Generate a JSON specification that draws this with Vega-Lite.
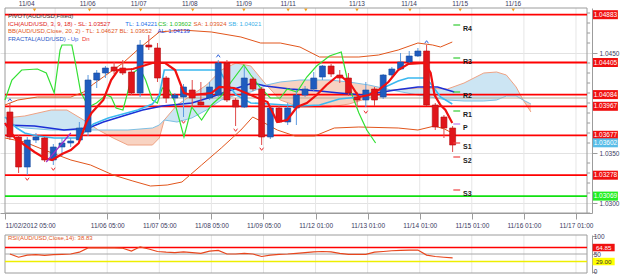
{
"$schema": "https://vega.github.io/schema/vega-lite/v6.json",
"width": 592,
"height": 275,
"autosize": {"type": "none"},
"padding": {"left": 0, "top": 0, "right": 33, "bottom": 0},
"background": "#ffffff",
"config": {
  "view": {"stroke": null},
  "text": {"font": "Liberation Sans", "fontSize": 6.5},
  "axis": {"labelFont": "Liberation Sans", "labelFontSize": 6.5, "labelColor": "#3a3a60", "domainColor": "#9c9c9c", "tickColor": "#9c9c9c", "labelBound": false}
},
"datasets": {
  "candles": [
    {"k":0,"o":1.0391,"h":1.0400,"l":1.0363,"c":1.0366},
    {"k":1,"o":1.0366,"h":1.0368,"l":1.0330,"c":1.0336},
    {"k":2,"o":1.0336,"h":1.0366,"l":1.0328,"c":1.0363},
    {"k":3,"o":1.0363,"h":1.0370,"l":1.0360,"c":1.0366},
    {"k":4,"o":1.0365,"h":1.0366,"l":1.0341,"c":1.0343},
    {"k":5,"o":1.0343,"h":1.0359,"l":1.0338,"c":1.0356},
    {"k":6,"o":1.0356,"h":1.0365,"l":1.0347,"c":1.0360},
    {"k":7,"o":1.0360,"h":1.0365,"l":1.0356,"c":1.0362},
    {"k":8,"o":1.0363,"h":1.0381,"l":1.0361,"c":1.0375},
    {"k":9,"o":1.0371,"h":1.0428,"l":1.0367,"c":1.0423},
    {"k":10,"o":1.0423,"h":1.0433,"l":1.0415,"c":1.0430},
    {"k":11,"o":1.0430,"h":1.0437,"l":1.0425,"c":1.0435},
    {"k":12,"o":1.0436,"h":1.0441,"l":1.0429,"c":1.0432},
    {"k":13,"o":1.0435,"h":1.0443,"l":1.0428,"c":1.0430},
    {"k":14,"o":1.0431,"h":1.0435,"l":1.0408,"c":1.0410},
    {"k":15,"o":1.0410,"h":1.0463,"l":1.0406,"c":1.0458},
    {"k":16,"o":1.0458,"h":1.0468,"l":1.0453,"c":1.0456},
    {"k":17,"o":1.0455,"h":1.0460,"l":1.0421,"c":1.0425},
    {"k":18,"o":1.0425,"h":1.0427,"l":1.0400,"c":1.0405},
    {"k":19,"o":1.0405,"h":1.0410,"l":1.0401,"c":1.0408},
    {"k":20,"o":1.0406,"h":1.0419,"l":1.0386,"c":1.0416},
    {"k":21,"o":1.0413,"h":1.0423,"l":1.0396,"c":1.0405},
    {"k":22,"o":1.0401,"h":1.0421,"l":1.0397,"c":1.0398},
    {"k":23,"o":1.0405,"h":1.0421,"l":1.0403,"c":1.0416},
    {"k":24,"o":1.0408,"h":1.0443,"l":1.0406,"c":1.0440},
    {"k":25,"o":1.0440,"h":1.0443,"l":1.0401,"c":1.0403},
    {"k":26,"o":1.0403,"h":1.0405,"l":1.0377,"c":1.0396},
    {"k":27,"o":1.0396,"h":1.0436,"l":1.0395,"c":1.0425},
    {"k":28,"o":1.0424,"h":1.0426,"l":1.0412,"c":1.0414},
    {"k":29,"o":1.0414,"h":1.0416,"l":1.0358,"c":1.0366},
    {"k":30,"o":1.0366,"h":1.0398,"l":1.0364,"c":1.0395},
    {"k":31,"o":1.0395,"h":1.0397,"l":1.0380,"c":1.0381},
    {"k":32,"o":1.0381,"h":1.0400,"l":1.0378,"c":1.0395},
    {"k":33,"o":1.0395,"h":1.0413,"l":1.0378,"c":1.0408},
    {"k":34,"o":1.0408,"h":1.0417,"l":1.0406,"c":1.0414},
    {"k":35,"o":1.0414,"h":1.0431,"l":1.0412,"c":1.0425},
    {"k":36,"o":1.0426,"h":1.0438,"l":1.0423,"c":1.0437},
    {"k":37,"o":1.0437,"h":1.0439,"l":1.0426,"c":1.0429},
    {"k":38,"o":1.0428,"h":1.0433,"l":1.0420,"c":1.0425},
    {"k":39,"o":1.0425,"h":1.0430,"l":1.0407,"c":1.0410},
    {"k":40,"o":1.0406,"h":1.0411,"l":1.0396,"c":1.0403},
    {"k":41,"o":1.0403,"h":1.0421,"l":1.0396,"c":1.0413},
    {"k":42,"o":1.0414,"h":1.0416,"l":1.0397,"c":1.0403},
    {"k":43,"o":1.0406,"h":1.0429,"l":1.0404,"c":1.0428},
    {"k":44,"o":1.0428,"h":1.0436,"l":1.0425,"c":1.0434},
    {"k":45,"o":1.0434,"h":1.0450,"l":1.0433,"c":1.0441},
    {"k":46,"o":1.0441,"h":1.0452,"l":1.0439,"c":1.0447},
    {"k":47,"o":1.0447,"h":1.0455,"l":1.0446,"c":1.0452},
    {"k":48,"o":1.0452,"h":1.0458,"l":1.0397,"c":1.0398},
    {"k":49,"o":1.0398,"h":1.0400,"l":1.0373,"c":1.0376},
    {"k":50,"o":1.0386,"h":1.0388,"l":1.0365,"c":1.0375},
    {"k":51,"o":1.0375,"h":1.0377,"l":1.0351,"c":1.0358}
  ],
  "ind": [
    {"s":"TEN","k":-0.57,"p":1.0380},{"s":"TEN","k":0.57,"p":1.0365},{"s":"TEN","k":1.70,"p":1.0358},{"s":"TEN","k":2.83,"p":1.0351},{"s":"TEN","k":3.96,"p":1.0345},{"s":"TEN","k":4.87,"p":1.0343},{"s":"TEN","k":6.00,"p":1.0349},{"s":"TEN","k":7.02,"p":1.0353},{"s":"TEN","k":7.93,"p":1.0360},{"s":"TEN","k":8.83,"p":1.0381},{"s":"TEN","k":9.40,"p":1.0390},{"s":"TEN","k":10.76,"p":1.0403},{"s":"TEN","k":11.66,"p":1.0423},{"s":"TEN","k":12.46,"p":1.0433},{"s":"TEN","k":14.16,"p":1.0434},{"s":"TEN","k":16.42,"p":1.0440},{"s":"TEN","k":17.89,"p":1.0440},{"s":"TEN","k":19.03,"p":1.0433},{"s":"TEN","k":20.05,"p":1.0410},{"s":"TEN","k":20.95,"p":1.0408},{"s":"TEN","k":23.22,"p":1.0410},{"s":"TEN","k":24.12,"p":1.0416},{"s":"TEN","k":25.82,"p":1.0415},{"s":"TEN","k":27.75,"p":1.0408},{"s":"TEN","k":29.67,"p":1.0401},{"s":"TEN","k":30.80,"p":1.0381},{"s":"TEN","k":31.94,"p":1.0383},{"s":"TEN","k":33.07,"p":1.0396},{"s":"TEN","k":34.20,"p":1.0400},{"s":"TEN","k":35.33,"p":1.0408},{"s":"TEN","k":36.47,"p":1.0418},{"s":"TEN","k":37.60,"p":1.0426},{"s":"TEN","k":38.28,"p":1.0426},{"s":"TEN","k":39.30,"p":1.0418},{"s":"TEN","k":40.20,"p":1.0406},{"s":"TEN","k":41.34,"p":1.0408},{"s":"TEN","k":42.47,"p":1.0413},{"s":"TEN","k":43.60,"p":1.0421},{"s":"TEN","k":44.73,"p":1.0433},{"s":"TEN","k":45.87,"p":1.0439},{"s":"TEN","k":47.79,"p":1.0440},{"s":"TEN","k":48.47,"p":1.0430},{"s":"TEN","k":48.92,"p":1.0408},{"s":"TEN","k":49.60,"p":1.0398},{"s":"TEN","k":50.17,"p":1.0393},{"s":"TEN","k":50.96,"p":1.0380},
    {"s":"MID","k":-0.57,"p":1.0378},{"s":"MID","k":2.83,"p":1.0377},{"s":"MID","k":6.23,"p":1.0373},{"s":"MID","k":9.06,"p":1.0375},{"s":"MID","k":10.76,"p":1.0381},{"s":"MID","k":13.02,"p":1.0387},{"s":"MID","k":15.29,"p":1.0393},{"s":"MID","k":17.55,"p":1.0397},{"s":"MID","k":20.95,"p":1.0400},{"s":"MID","k":23.22,"p":1.0406},{"s":"MID","k":25.48,"p":1.0413},{"s":"MID","k":27.97,"p":1.0420},{"s":"MID","k":29.45,"p":1.0417},{"s":"MID","k":32.28,"p":1.0414},{"s":"MID","k":35.67,"p":1.0412},{"s":"MID","k":37.94,"p":1.0410},{"s":"MID","k":40.77,"p":1.0408},{"s":"MID","k":44.39,"p":1.0413},{"s":"MID","k":47.00,"p":1.0416},{"s":"MID","k":49.26,"p":1.0416},{"s":"MID","k":51.19,"p":1.0411},
    {"s":"KIJ","k":-0.57,"p":1.0386},{"s":"KIJ","k":0.79,"p":1.0375},{"s":"KIJ","k":1.70,"p":1.0370},{"s":"KIJ","k":3.17,"p":1.0367},{"s":"KIJ","k":5.10,"p":1.0365},{"s":"KIJ","k":7.93,"p":1.0365},{"s":"KIJ","k":8.72,"p":1.0372},{"s":"KIJ","k":9.63,"p":1.0379},{"s":"KIJ","k":11.33,"p":1.0385},{"s":"KIJ","k":13.02,"p":1.0389},{"s":"KIJ","k":14.72,"p":1.0393},{"s":"KIJ","k":16.42,"p":1.0399},{"s":"KIJ","k":17.21,"p":1.0408},{"s":"KIJ","k":17.78,"p":1.0433},{"s":"KIJ","k":24.12,"p":1.0433},{"s":"KIJ","k":24.92,"p":1.0421},{"s":"KIJ","k":26.05,"p":1.0408},{"s":"KIJ","k":27.75,"p":1.0400},{"s":"KIJ","k":30.01,"p":1.0399},{"s":"KIJ","k":33.41,"p":1.0397},{"s":"KIJ","k":35.67,"p":1.0398},{"s":"KIJ","k":37.94,"p":1.0404},{"s":"KIJ","k":40.20,"p":1.0406},{"s":"KIJ","k":42.47,"p":1.0413},{"s":"KIJ","k":44.73,"p":1.0422},{"s":"KIJ","k":45.87,"p":1.0425},{"s":"KIJ","k":47.91,"p":1.0425},{"s":"KIJ","k":48.70,"p":1.0417},{"s":"KIJ","k":49.60,"p":1.0406},{"s":"KIJ","k":50.96,"p":1.0399},
    {"s":"CHI","k":-0.57,"p":1.0403},{"s":"CHI","k":0.23,"p":1.0423},{"s":"CHI","k":1.36,"p":1.0433},{"s":"CHI","k":3.17,"p":1.0434},{"s":"CHI","k":4.19,"p":1.0430},{"s":"CHI","k":5.10,"p":1.0410},{"s":"CHI","k":5.78,"p":1.0453},{"s":"CHI","k":6.00,"p":1.0458},{"s":"CHI","k":7.13,"p":1.0458},{"s":"CHI","k":7.59,"p":1.0438},{"s":"CHI","k":8.15,"p":1.0411},{"s":"CHI","k":9.06,"p":1.0396},{"s":"CHI","k":9.97,"p":1.0400},{"s":"CHI","k":11.10,"p":1.0408},{"s":"CHI","k":11.66,"p":1.0406},{"s":"CHI","k":12.23,"p":1.0395},{"s":"CHI","k":13.02,"p":1.0393},{"s":"CHI","k":14.16,"p":1.0430},{"s":"CHI","k":14.95,"p":1.0435},{"s":"CHI","k":15.63,"p":1.0423},{"s":"CHI","k":16.42,"p":1.0403},{"s":"CHI","k":16.99,"p":1.0400},{"s":"CHI","k":17.55,"p":1.0415},{"s":"CHI","k":18.35,"p":1.0413},{"s":"CHI","k":18.91,"p":1.0403},{"s":"CHI","k":20.05,"p":1.0366},{"s":"CHI","k":20.95,"p":1.0396},{"s":"CHI","k":22.08,"p":1.0383},{"s":"CHI","k":23.22,"p":1.0398},{"s":"CHI","k":24.35,"p":1.0407},{"s":"CHI","k":25.48,"p":1.0421},{"s":"CHI","k":26.95,"p":1.0438},{"s":"CHI","k":27.75,"p":1.0428},{"s":"CHI","k":28.88,"p":1.0415},{"s":"CHI","k":30.01,"p":1.0405},{"s":"CHI","k":31.14,"p":1.0405},{"s":"CHI","k":31.94,"p":1.0414},{"s":"CHI","k":33.07,"p":1.0411},{"s":"CHI","k":34.20,"p":1.0426},{"s":"CHI","k":35.33,"p":1.0437},{"s":"CHI","k":36.81,"p":1.0447},{"s":"CHI","k":38.17,"p":1.0451},{"s":"CHI","k":39.07,"p":1.0416},{"s":"CHI","k":40.20,"p":1.0390},{"s":"CHI","k":41.11,"p":1.0373},{"s":"CHI","k":42.13,"p":1.0360},
    {"s":"BBU","k":-0.57,"p":1.0398},{"s":"BBU","k":0.91,"p":1.0403},{"s":"BBU","k":3.17,"p":1.0406},{"s":"BBU","k":7.02,"p":1.0406},{"s":"BBU","k":8.49,"p":1.0411},{"s":"BBU","k":9.63,"p":1.0419},{"s":"BBU","k":10.76,"p":1.0426},{"s":"BBU","k":11.89,"p":1.0433},{"s":"BBU","k":13.02,"p":1.0440},{"s":"BBU","k":14.95,"p":1.0455},{"s":"BBU","k":17.21,"p":1.0471},{"s":"BBU","k":19.82,"p":1.0473},{"s":"BBU","k":23.22,"p":1.0471},{"s":"BBU","k":26.61,"p":1.0466},{"s":"BBU","k":28.88,"p":1.0460},{"s":"BBU","k":31.14,"p":1.0460},{"s":"BBU","k":33.41,"p":1.0456},{"s":"BBU","k":35.67,"p":1.0446},{"s":"BBU","k":40.20,"p":1.0446},{"s":"BBU","k":42.47,"p":1.0448},{"s":"BBU","k":44.73,"p":1.0453},{"s":"BBU","k":47.00,"p":1.0460},{"s":"BBU","k":48.70,"p":1.0458},{"s":"BBU","k":49.60,"p":1.0456},{"s":"BBU","k":50.96,"p":1.0461},
    {"s":"BBL","k":-0.57,"p":1.0365},{"s":"BBL","k":1.70,"p":1.0361},{"s":"BBL","k":3.96,"p":1.0353},{"s":"BBL","k":7.02,"p":1.0343},{"s":"BBL","k":9.29,"p":1.0338},{"s":"BBL","k":11.89,"p":1.0328},{"s":"BBL","k":14.16,"p":1.0322},{"s":"BBL","k":16.19,"p":1.0317},{"s":"BBL","k":18.12,"p":1.0318},{"s":"BBL","k":19.82,"p":1.0321},{"s":"BBL","k":22.08,"p":1.0338},{"s":"BBL","k":24.35,"p":1.0355},{"s":"BBL","k":26.61,"p":1.0373},{"s":"BBL","k":27.97,"p":1.0386},{"s":"BBL","k":29.11,"p":1.0381},{"s":"BBL","k":30.80,"p":1.0373},{"s":"BBL","k":32.84,"p":1.0367},{"s":"BBL","k":35.11,"p":1.0367},{"s":"BBL","k":37.37,"p":1.0375},{"s":"BBL","k":40.20,"p":1.0376},{"s":"BBL","k":44.73,"p":1.0375},{"s":"BBL","k":47.00,"p":1.0373},{"s":"BBL","k":48.92,"p":1.0377},{"s":"BBL","k":50.06,"p":1.0374},{"s":"BBL","k":50.96,"p":1.0370}
  ],
  "cloud": [
    {"seg":1,"k":-0.57,"a":1.0385,"b":1.0379},{"seg":1,"k":1.70,"a":1.0387,"b":1.0375},{"seg":1,"k":4.76,"a":1.0393,"b":1.0373},{"seg":1,"k":6.57,"a":1.0393,"b":1.0373},{"seg":1,"k":8.49,"a":1.0383,"b":1.0373},{"seg":1,"k":10.19,"a":1.0373,"b":1.0373},
    {"seg":2,"k":10.19,"a":1.0373,"b":1.0373},{"seg":2,"k":11.89,"a":1.0365,"b":1.0373},{"seg":2,"k":13.59,"a":1.0358,"b":1.0373},{"seg":2,"k":16.42,"a":1.0358,"b":1.0375},{"seg":2,"k":17.21,"a":1.0365,"b":1.0378},{"seg":2,"k":17.78,"a":1.0383,"b":1.0383},
    {"seg":3,"k":17.78,"a":1.0383,"b":1.0383},{"seg":3,"k":19.25,"a":1.0398,"b":1.0381},{"seg":3,"k":20.95,"a":1.0408,"b":1.0385},{"seg":3,"k":22.65,"a":1.0418,"b":1.0393},{"seg":3,"k":24.35,"a":1.0433,"b":1.0403},{"seg":3,"k":26.05,"a":1.0440,"b":1.0408},{"seg":3,"k":27.75,"a":1.0437,"b":1.0411},{"seg":3,"k":28.88,"a":1.0425,"b":1.0415},{"seg":3,"k":29.56,"a":1.0418,"b":1.0418},
    {"seg":4,"k":29.56,"a":1.0418,"b":1.0418},{"seg":4,"k":31.14,"a":1.0403,"b":1.0421},{"seg":4,"k":33.41,"a":1.0396,"b":1.0423},{"seg":4,"k":36.81,"a":1.0396,"b":1.0423},{"seg":4,"k":39.07,"a":1.0399,"b":1.0421},{"seg":4,"k":41.34,"a":1.0405,"b":1.0418},{"seg":4,"k":43.94,"a":1.0413,"b":1.0413},
    {"seg":5,"k":43.94,"a":1.0413,"b":1.0413},{"seg":5,"k":47.00,"a":1.0415,"b":1.0408},{"seg":5,"k":50.40,"a":1.0414,"b":1.0403},{"seg":5,"k":52.32,"a":1.0420,"b":1.0402},{"seg":5,"k":54.59,"a":1.0430,"b":1.0402},{"seg":5,"k":56.06,"a":1.0431,"b":1.0403},{"seg":5,"k":57.19,"a":1.0428,"b":1.0407},{"seg":5,"k":58.32,"a":1.0416,"b":1.0407},{"seg":5,"k":59.12,"a":1.0403,"b":1.0403},
    {"seg":6,"k":59.12,"a":1.0403,"b":1.0403},{"seg":6,"k":60.02,"a":1.0391,"b":1.0399}
  ],
  "levels": [
    {"p":1.04883,"label":"1.04883","src":"pivot"},
    {"p":1.04405,"label":"1.04405","src":"pivot"},
    {"p":1.04084,"label":"1.04084","src":"pivot"},
    {"p":1.04050,"label":"","src":"avg"},
    {"p":1.03967,"label":"1.03967","src":"pivot"},
    {"p":1.03677,"label":"1.03677","src":"pivot"},
    {"p":1.03602,"label":"1.03602","src":"close"},
    {"p":1.03278,"label":"1.03278","src":"pivot"},
    {"p":1.03069,"label":"1.03069","src":"low"}
  ],
  "yminor": [
    {"p":1.029},{"p":1.031},{"p":1.032},{"p":1.033},{"p":1.034},{"p":1.036},{"p":1.037},{"p":1.038},{"p":1.039},{"p":1.040},
    {"p":1.041},{"p":1.042},{"p":1.043},{"p":1.044},{"p":1.046},{"p":1.047},{"p":1.048},{"p":1.049}
  ],
  "pivots": [
    {"name":"R4","p":1.0478,"kind":"R"},{"name":"R3","p":1.0445,"kind":"R"},{"name":"R2","p":1.0411,"kind":"R"},{"name":"R1","p":1.0392,"kind":"R"},
    {"name":"P","p":1.0379,"kind":"P"},{"name":"S1","p":1.0360,"kind":"S"},{"name":"S2","p":1.0346,"kind":"S"},{"name":"S3","p":1.0313,"kind":"S"}
  ],
  "fractals": [
    {"k":0,"p":1.0403,"dir":"up"},{"k":24,"p":1.0447,"dir":"up"},{"k":48,"p":1.0461,"dir":"up"},
    {"k":2,"p":1.0324,"dir":"down"},{"k":5,"p":1.0334,"dir":"down"},{"k":20,"p":1.0381,"dir":"down"},{"k":26,"p":1.0373,"dir":"down"},{"k":29,"p":1.0354,"dir":"down"},{"k":41,"p":1.0391,"dir":"down"}
  ],
  "trend": [{"k":4.19,"p":1.0341},{"k":7.02,"p":1.0370}],
  "grid": [{"k":5.21},{"k":11.21},{"k":17.21},{"k":23.21},{"k":29.21},{"k":35.21},{"k":41.21},{"k":47.21},{"k":53.21},{"k":59.21},{"k":65.21}],
  "toplabels": [
    {"k":1.93,"label":"11/04"},{"k":8.95,"label":"11/06"},{"k":14.84,"label":"11/07"},{"k":20.72,"label":"11/08"},{"k":26.95,"label":"11/09"},
    {"k":32.05,"label":"11/11"},{"k":39.98,"label":"11/13"},{"k":45.98,"label":"11/14"},{"k":51.87,"label":"11/15"},{"k":57.98,"label":"11/16"}
  ],
  "topmarks": [{"k":2.83},{"k":9.17},{"k":15.06},{"k":21.06},{"k":26.95},{"k":32.05},{"k":34.09},{"k":39.98},{"k":46.09},{"k":51.87},{"k":57.98}],
  "rsi": [
    {"k":0,"v":50},{"k":1,"v":41},{"k":2,"v":47},{"k":3,"v":48},{"k":4,"v":46},{"k":5,"v":48},{"k":6,"v":49},{"k":7,"v":50},{"k":8,"v":55},{"k":9,"v":67},
    {"k":10,"v":67},{"k":11,"v":67},{"k":12,"v":67},{"k":13,"v":66},{"k":14,"v":58},{"k":15,"v":70},{"k":16,"v":64},{"k":17,"v":57},{"k":18,"v":55},{"k":19,"v":54},
    {"k":20,"v":56},{"k":21,"v":54},{"k":22,"v":52},{"k":23,"v":58},{"k":24,"v":60},{"k":25,"v":50},{"k":26,"v":50},{"k":27,"v":52},{"k":28,"v":50},{"k":29,"v":43},
    {"k":30,"v":47},{"k":31,"v":49},{"k":32,"v":50},{"k":33,"v":52},{"k":34,"v":54},{"k":35,"v":56},{"k":36,"v":57},{"k":37,"v":56},{"k":38,"v":52},{"k":39,"v":49},
    {"k":40,"v":49},{"k":41,"v":49},{"k":42,"v":55},{"k":43,"v":57},{"k":44,"v":59},{"k":45,"v":60},{"k":46,"v":61},{"k":47,"v":61},{"k":48,"v":47},{"k":49,"v":43},
    {"k":50,"v":41},{"k":51,"v":39}
  ],
  "rsilevels": [
    {"v":68,"label":"64.85","src":"hi"},{"v":50,"label":"","src":"mid"},{"v":29,"label":"29.00","src":"lo"}
  ],
  "rsiticks": [{"v":100,"label":"100"},{"v":50,"label":"50"},{"v":0,"label":"0"}]
},
"resolve": {"scale": {"y": "independent"}},
"layer": [
  {
    "resolve": {"scale": {"color": "independent", "shape": "independent"}},
    "layer": [
      {"data": {"name": "grid"}, "mark": {"type": "rule", "color": "#e6e6e6", "strokeWidth": 1},
       "encoding": {
         "x": {"field": "k", "type": "quantitative", "scale": {"domain": [-0.566, 66.48], "nice": false, "zero": false}},
         "y": {"datum": 1.029, "type": "quantitative", "scale": {"domain": [1.029, 1.0495], "range": [213, 8], "nice": false, "zero": false}},
         "y2": {"datum": 1.0495}}},
      {"data": {"values": [{}]}, "mark": {"type": "rect", "fill": null, "fillOpacity": 0, "stroke": "#9c9c9c", "strokeWidth": 1},
       "encoding": {
         "x": {"datum": -0.566, "type": "quantitative"},
         "x2": {"datum": 66.48},
         "y": {"datum": 1.029, "type": "quantitative"},
         "y2": {"datum": 1.0495}}},
      {"data": {"name": "yminor"}, "mark": {"type": "rule", "color": "#9c9c9c", "strokeWidth": 1},
       "encoding": {
         "x": {"datum": 66.48, "type": "quantitative"},
         "x2": {"datum": 66.84},
         "y": {"field": "p", "type": "quantitative"}}},
      {"data": {"name": "cloud"}, "mark": {"type": "area", "opacity": 1},
       "encoding": {
         "x": {"field": "k", "type": "quantitative"},
         "y": {"field": "a", "type": "quantitative", "stack": null},
         "y2": {"field": "b"},
         "color": {"field": "seg", "type": "nominal", "scale": {"domain": [1,2,3,4,5,6], "range": ["#cce5f3","#f8d3c2","#cce5f3","#f8d3c2","#cce5f3","#f8d3c2"]}, "legend": null}}},
      {"data": {"name": "cloud"}, "mark": {"type": "line", "color": "#efa283", "strokeWidth": 1},
       "encoding": {
         "x": {"field": "k", "type": "quantitative"},
         "y": {"field": "a", "type": "quantitative"}}},
      {"data": {"name": "cloud"}, "mark": {"type": "line", "color": "#7dc0e4", "strokeWidth": 1},
       "encoding": {
         "x": {"field": "k", "type": "quantitative"},
         "y": {"field": "b", "type": "quantitative"}}},
      {"data": {"name": "levels"}, "transform": [{"filter": "datum.src != 'close'"}], "mark": {"type": "rule"},
       "encoding": {
         "x": {"datum": -0.566, "type": "quantitative"},
         "x2": {"datum": 66.48},
         "y": {"field": "p", "type": "quantitative"},
         "color": {"field": "src", "type": "nominal", "scale": {"domain": ["pivot","low","avg"], "range": ["#ff0000","#11e011","#b9ab96"]}, "legend": null},
         "strokeWidth": {"condition": {"test": "datum.src == 'avg'", "value": 1}, "value": 1.8}}},
      {"data": {"name": "ind"}, "transform": [{"filter": "datum.s == 'BBU' || datum.s == 'BBL'"}], "mark": {"type": "line", "color": "#e2561c", "strokeWidth": 1},
       "encoding": {
         "x": {"field": "k", "type": "quantitative"},
         "y": {"field": "p", "type": "quantitative"},
         "detail": {"field": "s"}}},
      {"data": {"name": "ind"}, "transform": [{"filter": "datum.s == 'MID'"}], "mark": {"type": "line", "color": "#1c2fd6", "strokeWidth": 1.5},
       "encoding": {
         "x": {"field": "k", "type": "quantitative"},
         "y": {"field": "p", "type": "quantitative"}}},
      {"data": {"name": "ind"}, "transform": [{"filter": "datum.s == 'CHI'"}], "mark": {"type": "line", "color": "#33e033", "strokeWidth": 1.2},
       "encoding": {
         "x": {"field": "k", "type": "quantitative"},
         "y": {"field": "p", "type": "quantitative"}}},
      {"data": {"name": "ind"}, "transform": [{"filter": "datum.s == 'KIJ'"}], "mark": {"type": "line", "color": "#3ab8f0", "strokeWidth": 1.6},
       "encoding": {
         "x": {"field": "k", "type": "quantitative"},
         "y": {"field": "p", "type": "quantitative"}}},
      {"data": {"name": "candles"}, "mark": {"type": "rule", "strokeWidth": 1},
       "encoding": {
         "x": {"field": "k", "type": "quantitative"},
         "y": {"field": "h", "type": "quantitative"},
         "y2": {"field": "l"},
         "color": {"condition": {"test": "datum.c >= datum.o", "value": "#5d9be0"}, "value": "#e04a4a"}}},
      {"data": {"name": "candles"}, "mark": {"type": "bar", "width": 6, "strokeWidth": 0.6},
       "encoding": {
         "x": {"field": "k", "type": "quantitative", "scale": {"domain": [-0.566, 66.48], "nice": false, "zero": false},
               "axis": {"orient": "bottom", "offset": -62, "title": null, "grid": false, "tickSize": 6, "labelPadding": 3, "labelOverlap": false, "labelFlush": false,
                        "labelAlign": {"condition": {"test": "datum.value < 0", "value": "left"}, "value": "center"},
                        "values": [-0.566, 11.21, 17.21, 23.21, 29.21, 35.21, 41.21, 47.21, 53.21, 59.21, 65.21],
                        "labelExpr": "datum.value < 0 ? '11/02/2012 05:00' : datum.value < 12 ? '11/06 05:00' : datum.value < 18 ? '11/07 05:00' : datum.value < 24 ? '11/08 05:00' : datum.value < 30 ? '11/09 05:00' : datum.value < 36 ? '11/12 01:00' : datum.value < 42 ? '11/13 01:00' : datum.value < 48 ? '11/14 01:00' : datum.value < 54 ? '11/15 01:00' : datum.value < 60 ? '11/16 01:00' : '11/17 01:00'"}},
         "y": {"field": "o", "type": "quantitative", "scale": {"domain": [1.029, 1.0495], "range": [213, 8], "nice": false, "zero": false},
               "axis": {"orient": "right", "title": null, "labelOverlap": false, "labelBound": false, "labelFlush": false, "labelPadding": 2, "zindex": 0,
                        "values": [1.030, 1.035, 1.045], "format": ".4f", "tickSize": 5,
                        "grid": true, "gridColor": "#e2e2e2"}},
         "y2": {"field": "c"},
         "color": {"condition": {"test": "datum.c >= datum.o", "value": "#1f5cbf"}, "value": "#e0161b"},
         "stroke": {"condition": {"test": "datum.c >= datum.o", "value": "#174a9c"}, "value": "#b30e12"}}},
      {"data": {"name": "ind"}, "transform": [{"filter": "datum.s == 'TEN'"}], "mark": {"type": "line", "color": "#f01010", "strokeWidth": 2.2},
       "encoding": {
         "x": {"field": "k", "type": "quantitative"},
         "y": {"field": "p", "type": "quantitative"}}},
      {"data": {"name": "trend"}, "mark": {"type": "line", "color": "#9b30c8", "strokeWidth": 1.2},
       "encoding": {
         "x": {"field": "k", "type": "quantitative"},
         "y": {"field": "p", "type": "quantitative"}}},
      {"data": {"name": "fractals"}, "mark": {"type": "point", "filled": false, "size": 14, "strokeWidth": 1, "opacity": 1},
       "encoding": {
         "x": {"field": "k", "type": "quantitative"},
         "y": {"field": "p", "type": "quantitative"},
         "shape": {"field": "dir", "type": "nominal", "scale": {"domain": ["up","down"], "range": ["M-1,0.7L0,-0.7L1,0.7", "M-1,-0.7L0,0.7L1,-0.7"]}, "legend": null},
         "color": {"field": "dir", "type": "nominal", "scale": {"domain": ["up","down"], "range": ["#3366dd","#ee3333"]}, "legend": null}}},
      {"data": {"name": "pivots"}, "mark": {"type": "rule", "strokeWidth": 1.2},
       "encoding": {
         "x": {"datum": 51.08, "type": "quantitative"},
         "x2": {"datum": 51.87},
         "y": {"field": "p", "type": "quantitative"},
         "color": {"field": "kind", "type": "nominal", "scale": {"domain": ["R","P","S"], "range": ["#33cc33","#bb77ee","#ee4444"]}, "legend": null}}},
      {"data": {"name": "pivots"}, "mark": {"type": "text", "align": "left", "dy": 4, "fontSize": 7, "fontWeight": "bold", "color": "#1a1a1a"},
       "encoding": {
         "x": {"datum": 52.2, "type": "quantitative"},
         "y": {"field": "p", "type": "quantitative"},
         "text": {"field": "name"}}},
      {"data": {"name": "toplabels"}, "mark": {"type": "text", "color": "#3a3a60"},
       "encoding": {
         "x": {"field": "k", "type": "quantitative"},
         "y": {"datum": 1.04995, "type": "quantitative"},
         "text": {"field": "label"}}},
      {"data": {"name": "topmarks"}, "mark": {"type": "point", "shape": "triangle-down", "filled": true, "size": 12, "color": "#f0a020", "opacity": 1},
       "encoding": {
         "x": {"field": "k", "type": "quantitative"},
         "y": {"datum": 1.0493, "type": "quantitative"}}},
      {"data": {"name": "levels"}, "transform": [{"filter": "datum.label != ''"}], "mark": {"type": "tick", "orient": "horizontal", "size": 25, "thickness": 9, "opacity": 1},
       "encoding": {
         "x": {"datum": 68.6, "type": "quantitative"},
         "y": {"field": "p", "type": "quantitative"},
         "color": {"field": "src", "type": "nominal", "scale": {"domain": ["pivot","low","close"], "range": ["#f01010","#22ee22","#58bde8"]}, "legend": null}}},
      {"data": {"name": "levels"}, "transform": [{"filter": "datum.label != ''"}], "mark": {"type": "text", "align": "center", "color": "#ffffff"},
       "encoding": {
         "x": {"datum": 68.6, "type": "quantitative"},
         "y": {"field": "p", "type": "quantitative"},
         "text": {"field": "label"}}},
      {"data": {"values": [{}]}, "mark": {"type": "text", "align": "left", "fontSize": 6, "color": "#333333"},
       "encoding": {"x": {"datum": -0.23, "type": "quantitative"}, "y": {"datum": 1.0487, "type": "quantitative"},
         "text": {"value": "PIVOT(AUD/USD,Fixed)"}}},
      {"data": {"values": [{}]}, "mark": {"type": "text", "align": "left", "fontSize": 6, "color": "#e01818"},
       "encoding": {"x": {"datum": -0.23, "type": "quantitative"}, "y": {"datum": 1.0479, "type": "quantitative"},
         "text": {"value": "ICH(AUD/USD, 3, 9, 18) -  SL: 1.03527"}}},
      {"data": {"values": [{}]}, "mark": {"type": "text", "align": "left", "fontSize": 6, "color": "#2070e8"},
       "encoding": {"x": {"datum": 13.3, "type": "quantitative"}, "y": {"datum": 1.0479, "type": "quantitative"},
         "text": {"value": "TL: 1.04221"}}},
      {"data": {"values": [{}]}, "mark": {"type": "text", "align": "left", "fontSize": 6, "color": "#22bb22"},
       "encoding": {"x": {"datum": 17.05, "type": "quantitative"}, "y": {"datum": 1.0479, "type": "quantitative"},
         "text": {"value": "CS: 1.03602"}}},
      {"data": {"values": [{}]}, "mark": {"type": "text", "align": "left", "fontSize": 6, "color": "#e2561c"},
       "encoding": {"x": {"datum": 21.15, "type": "quantitative"}, "y": {"datum": 1.0479, "type": "quantitative"},
         "text": {"value": "SA: 1.03924"}}},
      {"data": {"values": [{}]}, "mark": {"type": "text", "align": "left", "fontSize": 6, "color": "#3ab0e8"},
       "encoding": {"x": {"datum": 25.15, "type": "quantitative"}, "y": {"datum": 1.0479, "type": "quantitative"},
         "text": {"value": "SB: 1.04021"}}},
      {"data": {"values": [{}]}, "mark": {"type": "text", "align": "left", "fontSize": 6, "color": "#e2561c"},
       "encoding": {"x": {"datum": -0.23, "type": "quantitative"}, "y": {"datum": 1.0472, "type": "quantitative"},
         "text": {"value": "BB(AUD/USD,Close, 20, 2) -  TL: 1.04627  BL: 1.03652"}}},
      {"data": {"values": [{}]}, "mark": {"type": "text", "align": "left", "fontSize": 6, "color": "#2040e0"},
       "encoding": {"x": {"datum": 17.0, "type": "quantitative"}, "y": {"datum": 1.0472, "type": "quantitative"},
         "text": {"value": "AL: 1.04139"}}},
      {"data": {"values": [{}]}, "mark": {"type": "text", "align": "left", "fontSize": 6, "color": "#2a56c8"},
       "encoding": {"x": {"datum": -0.23, "type": "quantitative"}, "y": {"datum": 1.0464, "type": "quantitative"},
         "text": {"value": "FRACTAL(AUD/USD) -"}}},
      {"data": {"values": [{}]}, "mark": {"type": "text", "align": "left", "fontSize": 6, "color": "#3366dd"},
       "encoding": {"x": {"datum": 7.0, "type": "quantitative"}, "y": {"datum": 1.0464, "type": "quantitative"},
         "text": {"value": "Up"}}},
      {"data": {"values": [{}]}, "mark": {"type": "text", "align": "left", "fontSize": 6, "color": "#ee3333"},
       "encoding": {"x": {"datum": 8.3, "type": "quantitative"}, "y": {"datum": 1.0464, "type": "quantitative"},
         "text": {"value": "Dn"}}}
    ]
  },
  {
    "resolve": {"scale": {"color": "independent"}},
    "layer": [
      {"data": {"name": "grid"}, "mark": {"type": "rule", "color": "#e6e6e6", "strokeWidth": 1},
       "encoding": {
         "x": {"field": "k", "type": "quantitative", "scale": {"domain": [-0.566, 66.48], "nice": false, "zero": false}},
         "y": {"datum": -3, "type": "quantitative", "scale": {"domain": [-3, 103], "range": [273, 235], "nice": false, "zero": false}},
         "y2": {"datum": 103}}},
      {"data": {"values": [{}]}, "mark": {"type": "rect", "fill": null, "fillOpacity": 0, "stroke": "#9c9c9c", "strokeWidth": 1},
       "encoding": {
         "x": {"datum": -0.566, "type": "quantitative"},
         "x2": {"datum": 66.48},
         "y": {"datum": -3, "type": "quantitative"},
         "y2": {"datum": 103}}},
      {"data": {"name": "rsilevels"}, "mark": {"type": "rule"},
       "encoding": {
         "x": {"datum": -0.566, "type": "quantitative"},
         "x2": {"datum": 66.48},
         "y": {"field": "v", "type": "quantitative"},
         "color": {"field": "src", "type": "nominal", "scale": {"domain": ["hi","mid","lo"], "range": ["#ff0000","#a8a8a8","#eeee00"]}, "legend": null},
         "strokeWidth": {"condition": {"test": "datum.src == 'mid'", "value": 1}, "value": 1.6}}},
      {"data": {"name": "rsi"}, "mark": {"type": "line", "color": "#e8461c", "strokeWidth": 1.2},
       "encoding": {
         "x": {"field": "k", "type": "quantitative"},
         "y": {"field": "v", "type": "quantitative", "scale": {"domain": [-3, 103], "range": [273, 235], "nice": false, "zero": false},
               "axis": {"orient": "right", "title": null, "values": [0, 50, 100], "tickSize": 4, "labels": false, "grid": false, "zindex": 0}}}},
      {"data": {"name": "rsiticks"}, "mark": {"type": "text", "align": "left", "color": "#3a3a60", "dy": 0.5},
       "encoding": {
         "x": {"datum": 67.25, "type": "quantitative"},
         "y": {"field": "v", "type": "quantitative"},
         "text": {"field": "label"}}},
      {"data": {"name": "rsilevels"}, "transform": [{"filter": "datum.label != ''"}], "mark": {"type": "tick", "orient": "horizontal", "size": 22, "thickness": 7.5, "opacity": 1},
       "encoding": {
         "x": {"datum": 68.4, "type": "quantitative"},
         "y": {"field": "v", "type": "quantitative"},
         "color": {"field": "src", "type": "nominal", "scale": {"domain": ["hi","lo"], "range": ["#f01010","#ffff00"]}, "legend": null}}},
      {"data": {"name": "rsilevels"}, "transform": [{"filter": "datum.label != ''"}], "mark": {"type": "text", "align": "center", "fontSize": 6.2},
       "encoding": {
         "x": {"datum": 68.4, "type": "quantitative"},
         "y": {"field": "v", "type": "quantitative"},
         "text": {"field": "label"},
         "color": {"condition": {"test": "datum.src == 'lo'", "value": "#333333"}, "value": "#ffffff"}}},
      {"data": {"values": [{}]}, "mark": {"type": "text", "align": "left", "fontSize": 6, "color": "#e2561c"},
       "encoding": {"x": {"datum": -0.23, "type": "quantitative"}, "y": {"datum": 94, "type": "quantitative"},
         "text": {"value": "RSI(AUD/USD,Close,14): 38.83"}}}
    ]
  }
]
}
